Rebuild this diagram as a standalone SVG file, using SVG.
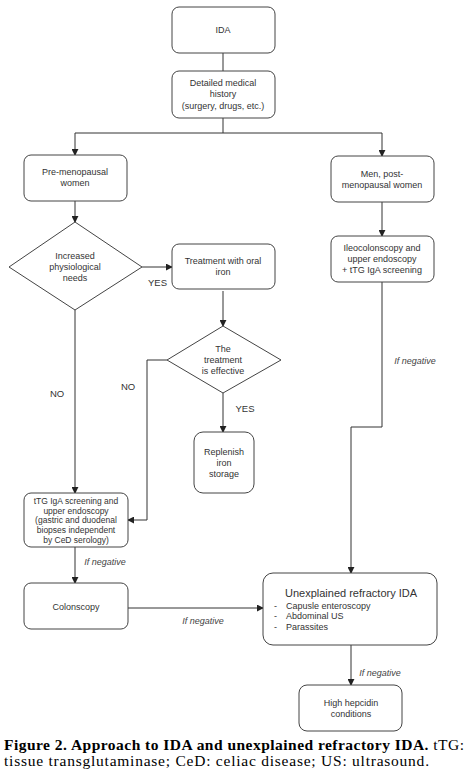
<svg xmlns="http://www.w3.org/2000/svg" width="467" height="780" viewBox="0 0 467 780">
<defs>
<marker id="ah" viewBox="0 0 8 8" refX="7" refY="4" markerWidth="7" markerHeight="7" markerUnits="userSpaceOnUse" orient="auto">
<path d="M0,0 L8,4 L0,8 z" fill="#222"/>
</marker>
</defs>
<style>
.box{fill:#fff;stroke:#444;stroke-width:1}
.t{font-family:"Liberation Sans",Arial,sans-serif;font-size:9px;fill:#333;text-anchor:middle}
.lbl{font-family:"Liberation Sans",Arial,sans-serif;font-size:9.5px;fill:#333;text-anchor:middle}
.it{font-family:"Liberation Sans",Arial,sans-serif;font-size:9px;font-style:italic;fill:#444;text-anchor:middle}
.ln{fill:none;stroke:#333;stroke-width:1}
.ar{fill:none;stroke:#333;stroke-width:1;marker-end:url(#ah)}
.cap{font-family:"Liberation Serif","Times New Roman",serif;font-size:15.5px;fill:#000}
</style>
<rect width="467" height="780" fill="#fff"/>
<g id="connectors">
<path class="ln" d="M223,53 V71"/>
<path class="ln" d="M223,118 V133 M75,133 H382"/>
<path class="ar" d="M75,133 V155"/>
<path class="ar" d="M382,133 V156"/>
<path class="ar" d="M75,201 V222"/>
<path class="ar" d="M142,267 H172"/>
<path class="ar" d="M223,291 V326"/>
<path class="ar" d="M167,360 H147 V520 H128"/>
<path class="ar" d="M223,393 V432"/>
<path class="ar" d="M75,310 V493"/>
<path class="ar" d="M75,547 V583"/>
<path class="ar" d="M128,608 H263"/>
<path class="ar" d="M382,202 V236"/>
<path class="ar" d="M382,282 V427 H351 V573"/>
<path class="ar" d="M351,645 V685"/>
<text class="lbl" x="148" y="286" style="text-anchor:start">YES</text>
<text class="lbl" x="57" y="397">NO</text>
<text class="lbl" x="128" y="390">NO</text>
<text class="lbl" x="245" y="412">YES</text>
<text class="it" x="415" y="364">If negative</text>
<text class="it" x="105" y="565">If negative</text>
<text class="it" x="203" y="624">If negative</text>
<text class="it" x="380" y="676">If negative</text>
</g>
<g id="ida">
<rect class="box" x="172" y="7" width="103" height="46" rx="7"/>
<text class="t" x="223" y="33">IDA</text>
</g>
<g id="history">
<rect class="box" x="172" y="71" width="103" height="47" rx="7"/>
<text class="t" x="223" y="86">Detailed medical</text>
<text class="t" x="223" y="97">history</text>
<text class="t" x="223" y="109">(surgery, drugs, etc.)</text>
</g>
<g id="premeno">
<rect class="box" x="24" y="155" width="103" height="46" rx="7"/>
<text class="t" x="75" y="175">Pre-menopausal</text>
<text class="t" x="75" y="186">women</text>
</g>
<g id="men">
<rect class="box" x="331" y="156" width="103" height="46" rx="7"/>
<text class="t" x="382" y="177">Men, post-</text>
<text class="t" x="382" y="188">menopausal women</text>
</g>
<g id="needs">
<path class="box" d="M75,222 L142,267 L75,310 L9,267 Z"/>
<text class="t" x="75" y="259">Increased</text>
<text class="t" x="75" y="270">physiological</text>
<text class="t" x="75" y="281">needs</text>
</g>
<g id="oraliron">
<rect class="box" x="172" y="244" width="103" height="45" rx="7"/>
<text class="t" x="223" y="264">Treatment with oral</text>
<text class="t" x="223" y="275">iron</text>
</g>
<g id="ileo">
<rect class="box" x="331" y="236" width="103" height="46" rx="7"/>
<text class="t" x="382" y="251">Ileocolonscopy and</text>
<text class="t" x="382" y="262">upper endoscopy</text>
<text class="t" x="382" y="273">+ tTG IgA screening</text>
</g>
<g id="effective">
<path class="box" d="M223,326 L281,360 L223,393 L167,360 Z"/>
<text class="t" x="223" y="352">The</text>
<text class="t" x="223" y="363">treatment</text>
<text class="t" x="223" y="374">is effective</text>
</g>
<g id="replenish">
<rect class="box" x="194" y="432" width="60" height="61" rx="9"/>
<text class="t" x="224" y="455">Replenish</text>
<text class="t" x="224" y="466">iron</text>
<text class="t" x="224" y="477">storage</text>
</g>
<g id="ttg">
<rect class="box" x="24" y="493" width="104" height="54" rx="7"/>
<text class="t" x="76" y="504" style="font-size:8.5px">tTG IgA screening and</text>
<text class="t" x="76" y="514" style="font-size:8.5px">upper endoscopy</text>
<text class="t" x="76" y="523" style="font-size:8.5px">(gastric and duodenal</text>
<text class="t" x="76" y="533" style="font-size:8.5px">biopses independent</text>
<text class="t" x="76" y="543" style="font-size:8.5px">by CeD serology)</text>
</g>
<g id="colonscopy">
<rect class="box" x="24" y="583" width="104" height="46" rx="7"/>
<text class="t" x="76" y="610">Colonscopy</text>
</g>
<g id="unexplained">
<rect class="box" x="263" y="573" width="174" height="72" rx="10"/>
<text class="t" x="285" y="597" style="text-anchor:start;font-size:11px">Unexplained refractory IDA</text>
<text class="t" x="274" y="609" style="text-anchor:start">-</text>
<text class="t" x="286" y="609" style="text-anchor:start">Capusle enteroscopy</text>
<text class="t" x="274" y="619" style="text-anchor:start">-</text>
<text class="t" x="286" y="619" style="text-anchor:start">Abdominal US</text>
<text class="t" x="274" y="630" style="text-anchor:start">-</text>
<text class="t" x="286" y="630" style="text-anchor:start">Parassites</text>
</g>
<g id="hepcidin">
<rect class="box" x="299" y="685" width="103" height="46" rx="8"/>
<text class="t" x="351" y="706">High hepcidin</text>
<text class="t" x="351" y="717">conditions</text>
</g>
<g id="caption">
<text class="cap" x="4" y="750" textLength="460" lengthAdjust="spacing"><tspan font-weight="bold">Figure 2. Approach to IDA and unexplained refractory IDA.</tspan> tTG:</text>
<text class="cap" x="4" y="766" textLength="425" lengthAdjust="spacing">tissue transglutaminase; CeD: celiac disease; US: ultrasound.</text>
</g>
</svg>
